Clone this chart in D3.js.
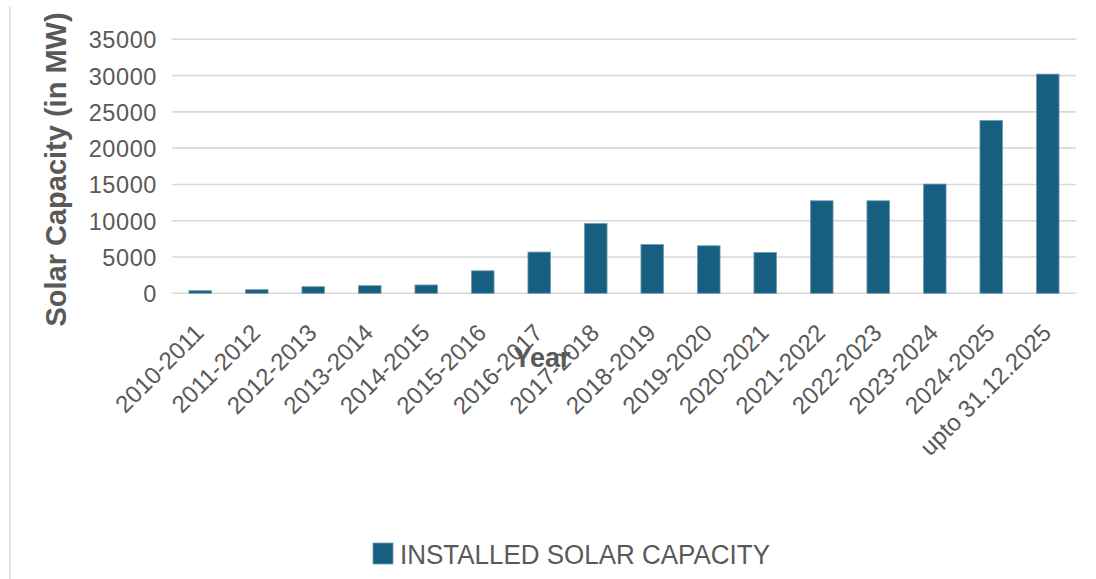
<!DOCTYPE html>
<html>
<head>
<meta charset="utf-8">
<script src="https://cdn.jsdelivr.net/npm/d3@7"></script>
<style>
  html, body { margin: 0; padding: 0; background: #ffffff; }
  svg { display: block; }
  text { font-family: "Liberation Sans", Arial, sans-serif; }
</style>
</head>
<body>
<svg id="chart" width="1096" height="579"></svg>
<script>
// Installed solar capacity per year (MW)
const categories = [
  "2010-2011", "2011-2012", "2012-2013", "2013-2014", "2014-2015",
  "2015-2016", "2016-2017", "2017-2018", "2018-2019", "2019-2020",
  "2020-2021", "2021-2022", "2022-2023", "2023-2024", "2024-2025",
  "upto 31.12.2025"
];
const installedCapacity = [
  360, 500, 910, 1050, 1150,
  3100, 5680, 9620, 6730, 6550,
  5630, 12750, 12750, 15050, 23810,
  30200
];
const yTicks = [0, 5000, 10000, 15000, 20000, 25000, 30000, 35000];
const seriesName = "INSTALLED SOLAR CAPACITY";
const yTitle = "Solar Capacity (in MW)";
const xTitle = "Year";

const svg = d3.select("#chart");
const margin = { left: 172, right: 1076, top: 39.3, bottom: 293.3 };
const barColor = "#175f80";
const edgeColor = "#6f9bb2";
const textColor = "#595959";

const x = d3.scaleBand()
  .domain(categories)
  .range([margin.left, margin.right])
  .paddingInner(0.6)
  .paddingOuter(0.3);

const y = d3.scaleLinear()
  .domain([0, 35000])
  .range([margin.bottom, margin.top]);

// outer frame line on the left
svg.append("line")
  .attr("x1", 10).attr("x2", 10)
  .attr("y1", 7).attr("y2", 579)
  .attr("stroke", "#d9d9d9").attr("stroke-width", 1.5);

// horizontal gridlines
svg.append("g")
  .selectAll("line")
  .data(yTicks)
  .join("line")
  .attr("x1", margin.left).attr("x2", margin.right)
  .attr("y1", d => y(d)).attr("y2", d => y(d))
  .attr("stroke", "#d9d9d9").attr("stroke-width", 1.6);

// y axis labels
const yAxis = d3.axisLeft(y).tickValues(yTicks).tickSize(0).tickPadding(0).tickFormat(d3.format("d"));
const gy = svg.append("g").attr("transform", `translate(157,0)`).call(yAxis);
gy.select(".domain").remove();
gy.selectAll("text")
  .attr("fill", textColor)
  .style("font-size", "23.5px")
  .style("letter-spacing", "0.6px")
  .style("font-family", "Liberation Sans, Arial, sans-serif")
  .attr("dy", "0.36em");

// bars
svg.append("g")
  .selectAll("rect")
  .data(categories.map((c, i) => ({ c, v: installedCapacity[i] })))
  .join("rect")
  .attr("x", d => x(d.c))
  .attr("width", x.bandwidth())
  .attr("y", d => y(d.v))
  .attr("height", d => y(0) - y(d.v))
  .attr("fill", barColor)
  .attr("stroke", edgeColor)
  .attr("stroke-width", 0.8);

// x axis labels, rotated
const xAxis = d3.axisBottom(x).tickSize(0).tickPadding(0);
const gx = svg.append("g").attr("transform", `translate(0,${margin.bottom})`).call(xAxis);
gx.select(".domain").remove();
gx.selectAll("text")
  .attr("fill", textColor)
  .style("font-size", "24px")
  .style("font-family", "Liberation Sans, Arial, sans-serif")
  .attr("text-anchor", "end")
  .attr("dy", null)
  .attr("y", 0)
  .attr("transform", "translate(5,41) rotate(-45)");

// axis titles
svg.append("text")
  .attr("transform", `translate(66,169.5) rotate(-90)`)
  .attr("text-anchor", "middle")
  .attr("fill", textColor)
  .style("font-size", "29px")
  .style("font-weight", "bold")
  .text(yTitle);

svg.append("text")
  .attr("x", 542).attr("y", 367)
  .attr("text-anchor", "middle")
  .attr("fill", textColor)
  .style("font-size", "27px")
  .style("font-weight", "bold")
  .text(xTitle);

// legend
const legend = svg.append("g");
legend.append("rect")
  .attr("x", 373).attr("y", 543)
  .attr("width", 20).attr("height", 21)
  .attr("fill", barColor)
  .attr("stroke", edgeColor).attr("stroke-width", 0.8);
legend.append("text")
  .attr("x", 400).attr("y", 564)
  .attr("fill", textColor)
  .style("font-size", "27px")
  .attr("textLength", 370)
  .attr("lengthAdjust", "spacingAndGlyphs")
  .text(seriesName);
</script>
</body>
</html>
